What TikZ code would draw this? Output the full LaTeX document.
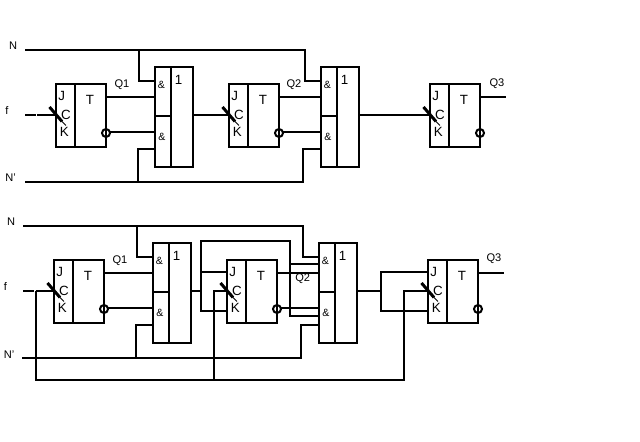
\documentclass[tikz,border=0pt]{standalone}
\usepackage{fontspec}
\setmainfont{Liberation Sans}
\usepackage{xcolor}

\tikzset{
    wire/.style={line width=0.04cm},
    pinlabel/.style={inner sep=0pt, font=\fontsize{7.6}{8}\selectfont},
    amplabel/.style={inner sep=0pt, font=\fontsize{6}{7}\selectfont},
    sidelabel/.style={inner sep=0pt, font=\fontsize{6.3}{7}\selectfont},
    ffbox/.style={draw, wire, inner sep=0pt, outer sep=0pt, minimum width=1cm, minimum height=1.26cm},
    gatebox/.style={draw, wire, inner sep=0pt, outer sep=0pt, minimum width=0.77cm, minimum height=2cm},
    bubble/.style={draw, wire, circle, inner sep=0pt, outer sep=0pt, minimum size=0.16cm},
    tick/.style={line width=0.06cm},
    thintick/.style={line width=0.02cm}
}

\begin{document}
\begin{tikzpicture}[x=0.02cm, y=-0.02cm]
    \useasboundingbox (0, 0) rectangle (640, 442);

    % flip-flops
    \foreach \name/\x/\y in {ffa/81/115.5, ffb/254/115.5, ffc/455/115.5, ffd/79/291.5, ffe/252/291.5, fff/453/291.5} {
        \node[ffbox] (\name) at (\x, \y) {};
        \node[bubble] (\name-bub) at (\x+25, \y+17.5) {};
        \coordinate (\name-dt) at (\x-6, \y-31.5);
        \coordinate (\name-db) at (\x-6, \y+31.5);
        \coordinate (\name-j) at (\x-25, \y-19.3);
        \coordinate (\name-c) at (\x-25, \y-0.5);
        \coordinate (\name-k) at (\x-25, \y+19.5);
        \coordinate (\name-q) at (\x+25, \y-18.7);
        \coordinate (\name-qn) at (\x+29, \y+16.2);
        \coordinate (\name-ta) at (\x-31.5, \y-8.5);
        \coordinate (\name-tb) at (\x-19, \y+6);
        \coordinate (\name-tc) at (\x-15, \y+10);
        \draw[wire] (\name-dt) -- (\name-db);
        \draw[tick] (\name-ta) -- (\name-tb);
        \draw[thintick] (\name-tb) -- (\name-tc);
        \node[pinlabel] (\name-lj) at (\x-19.3, \y-19.5) {J};
        \node[pinlabel] (\name-lc) at (\x-15, \y-0.5) {C};
        \node[pinlabel] (\name-lk) at (\x-16.7, \y+16.5) {K};
        \node[pinlabel] (\name-lt) at (\x+9, \y-15.5) {T};
    }

    % and-or gates
    \foreach \name/\x/\y in {gta/174/117, gtb/340/117, gtc/172/292.7, gtd/338/292.7} {
        \node[gatebox] (\name) at (\x, \y) {};
        \coordinate (\name-dt) at (\x-3, \y-50);
        \coordinate (\name-db) at (\x-3, \y+50);
        \coordinate (\name-ml) at (\x-19.3, \y-1);
        \coordinate (\name-mr) at (\x-3, \y-1);
        \coordinate (\name-a) at (\x-19.3, \y-36);
        \coordinate (\name-b) at (\x-19.3, \y-20);
        \coordinate (\name-c) at (\x-19.3, \y+15);
        \coordinate (\name-d) at (\x-19.3, \y+32);
        \coordinate (\name-o) at (\x+19.3, \y-2);
        \draw[wire] (\name-dt) -- (\name-db);
        \draw[wire] (\name-ml) -- (\name-mr);
        \node[amplabel] (\name-la) at (\x-12.5, \y-32) {\&};
        \node[amplabel] (\name-lb) at (\x-12, \y+20) {\&};
        \node[pinlabel] (\name-lo) at (\x+4.7, \y-37) {1};
    }

    % upper circuit
    \node[sidelabel] (nup) at (13, 46) {N};
    \node[sidelabel] (fup) at (7, 110) {f};
    \node[sidelabel] (nnup) at (10.5, 178) {N'};
    \node[sidelabel] (qa) at (122, 85) {Q1};
    \node[sidelabel] (qb) at (294, 85) {Q2};
    \node[sidelabel] (qc) at (497, 84) {Q3};

    \coordinate (nup-s) at (25, 50);
    \coordinate (nup-j) at (139, 50);
    \coordinate (nup-e) at (305, 50);
    \coordinate (nnup-s) at (25, 182);
    \coordinate (nnup-j) at (138, 182);
    \coordinate (nnup-e) at (303, 182);
    \coordinate (fup-s) at (25, 115);
    \coordinate (fup-g) at (35.5, 115);
    \coordinate (fup-h) at (37, 115);
    \coordinate (qc-e) at (506, 96.8);

    \draw[wire] (nup-s) -- (nup-e) |- (gtb-a);
    \draw[wire] (nup-j) |- (gta-a);
    \draw[wire] (nnup-s) -- (nnup-e) |- (gtb-d);
    \draw[wire] (nnup-j) |- (gta-d);
    \draw[wire] (fup-s) -- (fup-g);
    \draw[wire] (fup-h) -- (ffa-c);
    \draw[wire] (ffa-q) -- (ffa-q -| gta-b);
    \draw[wire] (ffa-qn) -- (ffa-qn -| gta-c);
    \draw[wire] (gta-o) -- (ffb-c);
    \draw[wire] (ffb-q) -- (ffb-q -| gtb-b);
    \draw[wire] (ffb-qn) -- (ffb-qn -| gtb-c);
    \draw[wire] (gtb-o) -- (ffc-c);
    \draw[wire] (ffc-q) -- (ffc-q -| qc-e);

    % lower circuit
    \node[sidelabel] (ndn) at (11, 222) {N};
    \node[sidelabel] (fdn) at (5.5, 286) {f};
    \node[sidelabel] (nndn) at (9, 354.7) {N'};
    \node[sidelabel] (qd) at (120, 261) {Q1};
    \node[sidelabel] (qe) at (302.7, 279) {Q2};
    \node[sidelabel] (qf) at (494, 259) {Q3};

    \coordinate (ndn-s) at (23, 225.7);
    \coordinate (ndn-j) at (136.7, 225.7);
    \coordinate (ndn-e) at (303.3, 225.7);
    \coordinate (nndn-s) at (22, 358);
    \coordinate (nndn-j) at (135.7, 358);
    \coordinate (nndn-e) at (301, 358);
    \coordinate (fdn-s) at (23, 291);
    \coordinate (fdn-g) at (34, 291);
    \coordinate (fdn-h) at (35.7, 291);
    \coordinate (clk-a) at (35.7, 379.7);
    \coordinate (clk-b) at (214, 379.7);
    \coordinate (clk-c) at (404, 379.7);
    \coordinate (fbk-a) at (201, 291);
    \coordinate (fbk-t) at (201, 240.7);
    \coordinate (fbk-r) at (290, 240.7);
    \coordinate (fbk-m) at (290, 263.7);
    \coordinate (fbk-n) at (290, 316);
    \coordinate (gtd-e) at (318.7, 263.7);
    \coordinate (gtd-f) at (318.7, 316);
    \coordinate (fbl-a) at (380.7, 291);
    \coordinate (qf-e) at (504, 272.7);

    \draw[wire] (ndn-s) -- (ndn-e) |- (gtd-a);
    \draw[wire] (ndn-j) |- (gtc-a);
    \draw[wire] (nndn-s) -- (nndn-e) |- (gtd-d);
    \draw[wire] (nndn-j) |- (gtc-d);
    \draw[wire] (fdn-s) -- (fdn-g);
    \draw[wire] (fdn-h) -- (ffd-c);
    \draw[wire] (fdn-h) -- (clk-a) -- (clk-c) |- (fff-c);
    \draw[wire] (clk-b) |- (ffe-c);
    \draw[wire] (ffd-q) -- (ffd-q -| gtc-b);
    \draw[wire] (ffd-qn) -- (ffd-qn -| gtc-c);
    \draw[wire] (gtc-o) -- (gtc-o -| fbk-a);
    \draw[wire] (ffe-k) -| (fbk-t) -- (fbk-r) -- (fbk-n) -- (gtd-f);
    \draw[wire] (ffe-j) -- (ffe-j -| fbk-a);
    \draw[wire] (fbk-m) -- (gtd-e);
    \draw[wire] (ffe-q) -- (ffe-q -| gtd-b);
    \draw[wire] (ffe-qn) -- (ffe-qn -| gtd-c);
    \draw[wire] (gtd-o) -- (gtd-o -| fbl-a);
    \draw[wire] (fff-j) -| (fbl-a) |- (fff-k);
    \draw[wire] (fff-q) -- (fff-q -| qf-e);
\end{tikzpicture}
\end{document}
